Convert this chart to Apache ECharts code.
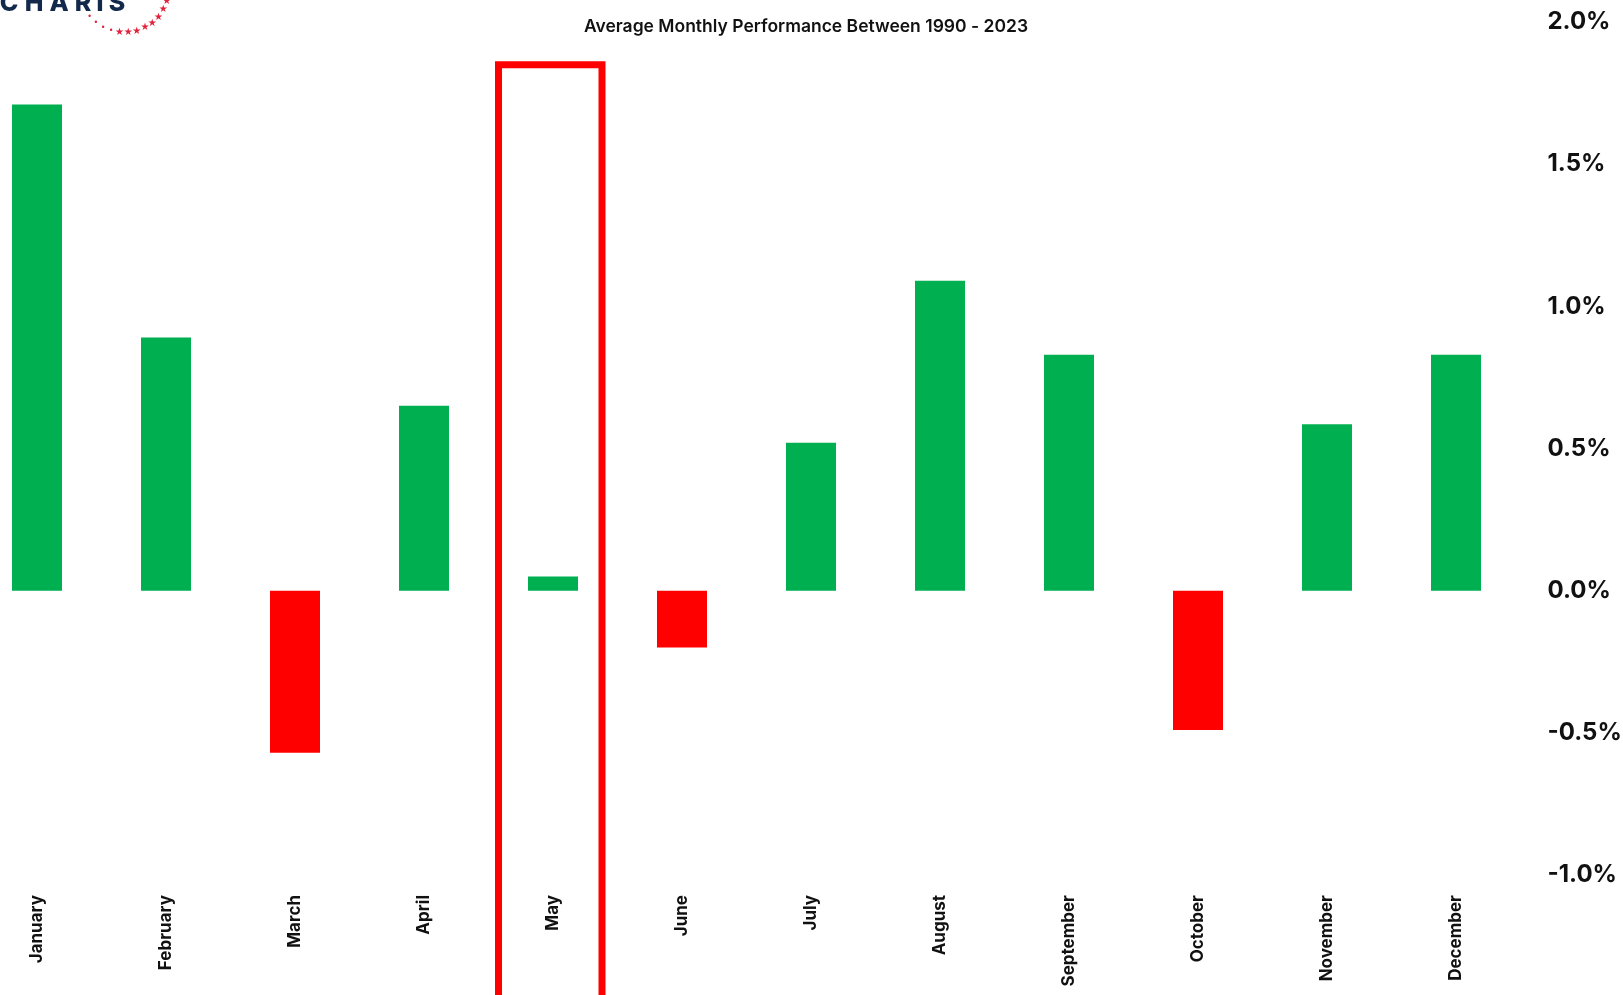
<!DOCTYPE html>
<html>
<head>
<meta charset="utf-8">
<script src="https://cdn.jsdelivr.net/npm/echarts@6/dist/echarts.min.js"></script>
<style>
html,body{margin:0;padding:0;background:#fff;}
#chart{width:1623px;height:995px;}
</style>
</head>
<body>
<div id="chart"></div>
<script>
const months = ['January','February','March','April','May','June','July','August','September','October','November','December'];
const avgReturn = [1.71, 0.89, -0.57, 0.65, 0.05, -0.20, 0.52, 1.09, 0.83, -0.49, 0.585, 0.83];
const yTicks = [-1.0, -0.5, 0.0, 0.5, 1.0, 1.5, 2.0];
const highlightMonth = 'May';
const highlightTop = 1.85;
const titleText = 'Average Monthly Performance Between 1990 - 2023';
const logoLetters = ['C','H','A','R','T','S'];

const chart = echarts.init(document.getElementById('chart'));
const FONT = 'Inter, "Noto Sans", sans-serif';

const option = {
  backgroundColor: '#ffffff',
  animation: false,
  title: {
    text: titleText,
    left: 801, top: 13, textAlign: 'center',
    textStyle: { fontFamily: FONT, fontSize: 17.5, fontWeight: 600, color: '#111' }
  },
  grid: { left: -27.5, right: 102.5, top: 22, bottom: 120, outerBoundsMode: 'none', containLabel: false },
  xAxis: {
    type: 'category',
    data: months,
    axisLine: { show: false },
    axisTick: { show: false },
    axisLabel: { rotate: 90, margin: 20, fontFamily: FONT, fontSize: 17, fontWeight: 700, color: '#111', interval: 0 }
  },
  yAxis: {
    type: 'value',
    position: 'right',
    min: yTicks[0], max: yTicks[yTicks.length - 1], interval: 0.5,
    axisLine: { show: false },
    axisTick: { show: false },
    splitLine: { show: false },
    axisLabel: {
      margin: 27, fontFamily: FONT, fontSize: 24, fontWeight: 700, color: '#111',
      formatter: v => v.toFixed(1) + '%'
    }
  },
  series: [{
    type: 'bar',
    barWidth: 50,
    data: avgReturn.map(v => ({ value: v, itemStyle: { color: v >= 0 ? '#00B050' : '#FF0000' } }))
  }]
};
chart.setOption(option);

const cx = chart.convertToPixel({ xAxisIndex: 0 }, highlightMonth);
const topY = chart.convertToPixel({ yAxisIndex: 0 }, highlightTop);
const graphics = [
  {
    type: 'rect', z: 10,
    shape: { x: cx - 54.5, y: topY, width: 103.5, height: 1000 },
    style: { fill: 'none', stroke: '#FF0000', lineWidth: 7 }
  }
];
const letterX = [9, 34, 59, 83, 100, 117];
logoLetters.forEach((ch, i) => {
  graphics.push({
    type: 'text', z: 10, x: letterX[i], y: 16,
    style: { text: ch, font: '800 25px ' + FONT, fill: '#13294B', align: 'center', verticalAlign: 'bottom' }
  });
});
const n = 12;
for (let i = 0; i < n; i++) {
  const a = (140 - i * (122 / (n - 1))) * Math.PI / 180;
  const x = 124 + 45 * Math.cos(a);
  const y = -12 + 45 * Math.sin(a);
  graphics.push({
    type: 'text', z: 10,
    x: x, y: y,
    style: { text: i < 4 ? '•' : '★', font: (i < 4 ? 8 : 10) + 'px "DejaVu Sans"', fill: '#E0223A', align: 'center', verticalAlign: 'middle' }
  });
}
chart.setOption({ graphic: graphics });
</script>
</body>
</html>
